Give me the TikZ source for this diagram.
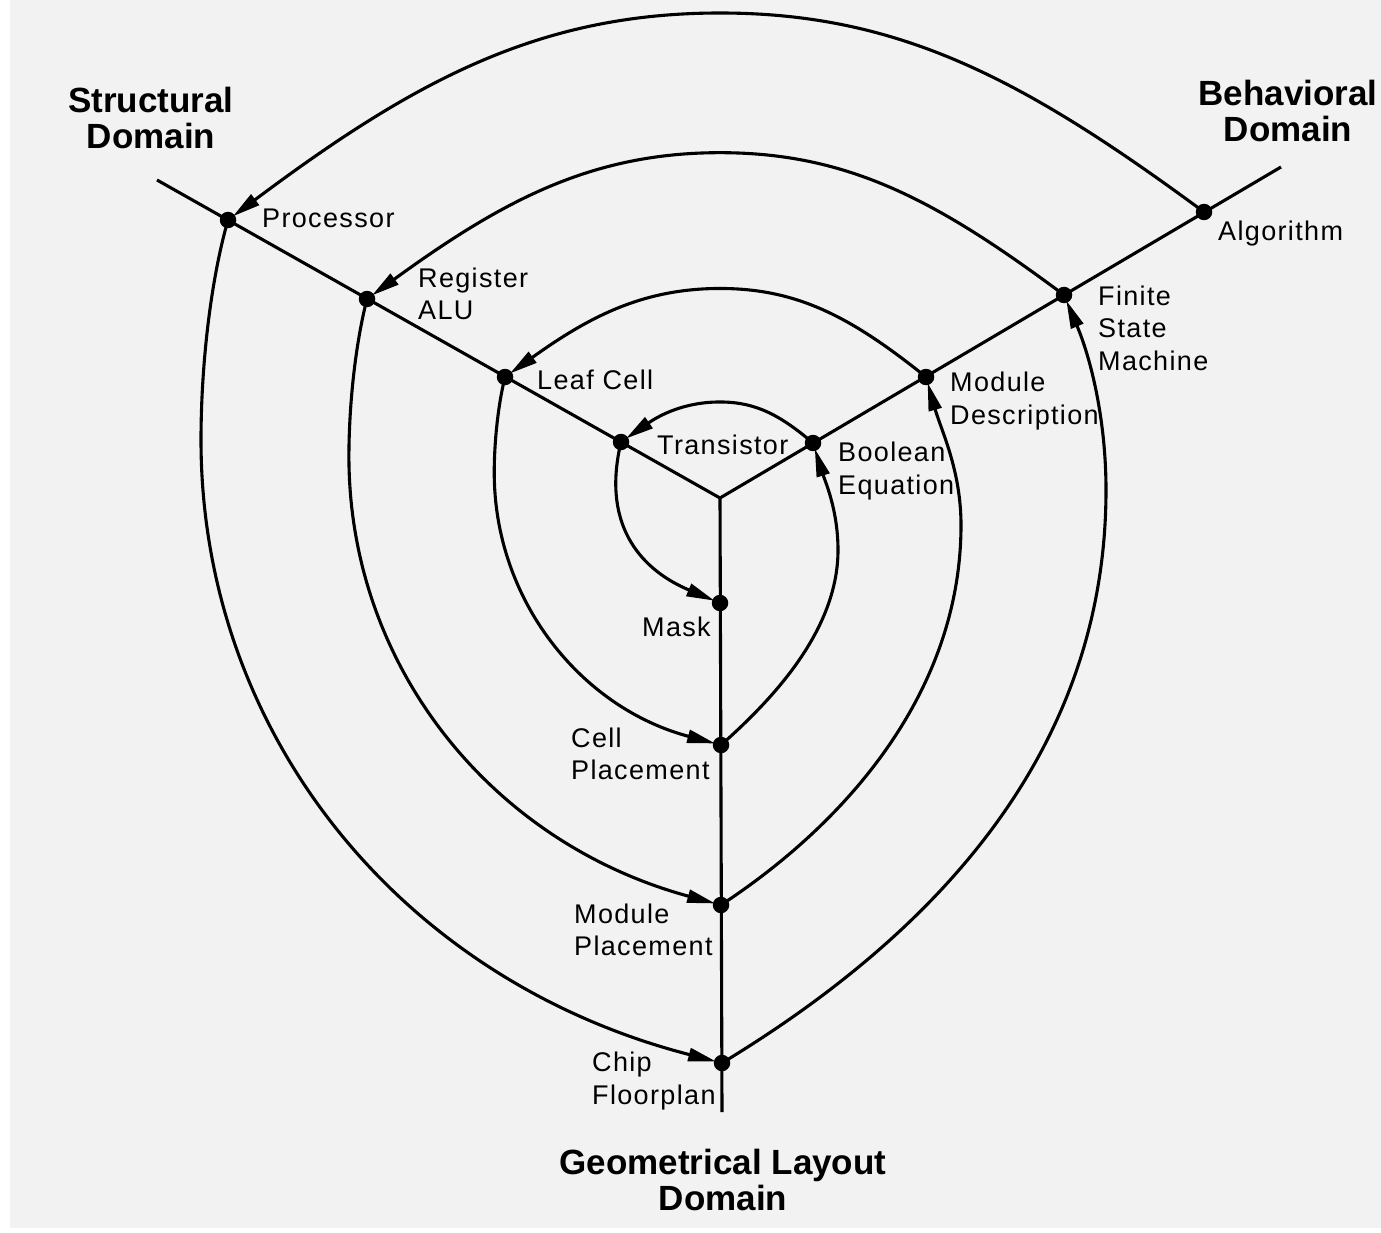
\documentclass[tikz,border=0pt]{standalone}
\usepackage{fontspec}
\setmainfont{Liberation Sans}
\newfontfamily\lblfont[LetterSpace=5]{Liberation Sans}
\usetikzlibrary{arrows.meta}
\definecolor{bgpaper}{RGB}{242,242,242}
\begin{document}
\begin{tikzpicture}[x=1pt,y=-1pt,
  axis/.style={line width=3.1pt},
  link/.style={line width=3.1pt, -{Triangle[length=28pt,width=13pt]}, shorten >=6pt},
  dot/.style={circle, fill=black, minimum size=16.5pt, inner sep=0pt},
  lbl/.style={font=\lblfont\fontsize{27}{32.5}\selectfont, inner sep=0pt, align=left, anchor=west},
  title/.style={font=\bfseries\fontsize{35}{36}\selectfont, inner sep=0pt, align=center}]
\fill[white] (0,0) rectangle (1381,1233);
\useasboundingbox (0,0) rectangle (1381,1233);
\fill[bgpaper] (10,0) rectangle (1381,1228);
% axes
\coordinate (c) at (720,498);
\coordinate (sEnd) at (157,180);
\coordinate (bEnd) at (1281,167);
\coordinate (gEnd) at (722,1112);
\draw[axis] (sEnd) -- (c) -- (bEnd);
\draw[axis] (c) -- (gEnd);
% dots
\node[dot] (proc) at (228,220) {};
\node[dot] (reg) at (367,299) {};
\node[dot] (leaf) at (505,377) {};
\node[dot] (trans) at (621,442) {};
\node[dot] (alg) at (1204,212) {};
\node[dot] (fsm) at (1064,295) {};
\node[dot] (mdesc) at (926,377) {};
\node[dot] (bool) at (813,443) {};
\node[dot] (mask) at (720,603) {};
\node[dot] (cellpl) at (721,745) {};
\node[dot] (modpl) at (721,905) {};
\node[dot] (chip) at (722,1063) {};
% top arcs (behavioral -> structural), homothetic about the centre
\begin{scope}[shift={(720,498)}]
\draw[link] (alg.center) .. controls (305,-418) and (180,-485) .. (0,-485) .. controls (-180,-485) and (-305,-418) .. (proc.center);
\end{scope}
\begin{scope}[shift={(720,498)},scale=0.712]
\draw[link] (fsm.center) .. controls (305,-418) and (180,-485) .. (0,-485) .. controls (-180,-485) and (-305,-418) .. (reg.center);
\end{scope}
\begin{scope}[shift={(720,498)},scale=0.432]
\draw[link] (mdesc.center) .. controls (305,-418) and (180,-485) .. (0,-485) .. controls (-180,-485) and (-305,-418) .. (leaf.center);
\end{scope}
\begin{scope}[shift={(720,498)},scale=0.198]
\draw[link] (bool.center) .. controls (305,-418) and (180,-485) .. (0,-485) .. controls (-180,-485) and (-305,-418) .. (trans.center);
\end{scope}
% left-down arcs (structural -> layout)
\begin{scope}[shift={(720,498)}]
\draw[link] (proc.center) .. controls (-510,-215) and (-519,-130) .. (-519,-58) .. controls (-519,235) and (-320,482) .. (chip.center);
\end{scope}
\begin{scope}[shift={(720,498)},scale=0.715]
\draw[link] (reg.center) .. controls (-510,-215) and (-519,-130) .. (-519,-58) .. controls (-519,235) and (-320,482) .. (modpl.center);
\end{scope}
\begin{scope}[shift={(720,498)},scale=0.435]
\draw[link] (leaf.center) .. controls (-510,-215) and (-519,-130) .. (-519,-58) .. controls (-519,235) and (-320,482) .. (cellpl.center);
\end{scope}
\draw[link] (trans.center) .. controls (600,530) and (646,572) .. (mask.center);
% right-up arcs (layout -> behavioral)
\draw[link] (chip.center) .. controls (963,917) and (1106,730) .. (1106,490) .. controls (1106,420) and (1091,359) .. (fsm.center);
\draw[link] (modpl.center) .. controls (855,817) and (961,685) .. (961,525) .. controls (961,470) and (941,430) .. (mdesc.center);
\draw[link] (cellpl.center) .. controls (773,699) and (838,630) .. (838,550) .. controls (838,510) and (825,481) .. (bool.center);
% labels
\node[lbl] (lproc) at (262,218) {Processor};
\node[lbl] (lreg) at (418,294) {Register\\ALU};
\node[lbl] (lleaf) at (537,380) {Leaf Cell};
\node[lbl] (ltrans) at (657,445) {Transistor};
\node[lbl] (lalg) at (1218,234) {Algorithm};
\node[lbl] (lfsm) at (1098,328) {Finite\\State\\Machine};
\node[lbl] (lmdesc) at (950,401) {Module\\Description};
\node[lbl] (lbool) at (838,471) {Boolean\\Equation};
\node[lbl] (lmask) at (642,627) {Mask};
\node[lbl] (lcell) at (571,754) {Cell\\Placement};
\node[lbl] (lmodpl) at (574,930) {Module\\Placement};
\node[lbl] (lchip) at (592,1081) {Chip\\Floorplan};
\node[title] (tstruct) at (151,118) {Structural\\Domain};
\node[title] (tbeh) at (1288,111) {Behavioral\\Domain};
\node[title] (tgeo) at (723,1180) {Geometrical Layout\\Domain};
\end{tikzpicture}
\end{document}
